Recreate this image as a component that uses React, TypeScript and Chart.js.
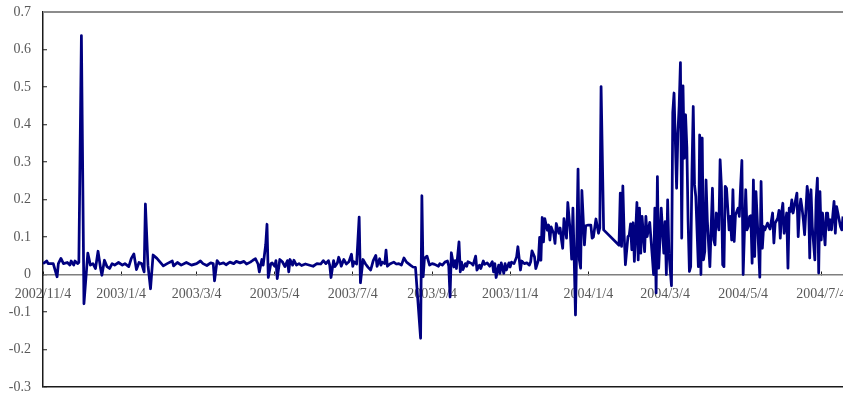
import { useEffect, useRef } from "react";
import { Chart, registerables } from "chart.js";

Chart.register(...registerables);

// Dates shown on the horizontal axis
const startDate = "2002/11/4";
const tickDates = [
  "2002/11/4", "2003/1/4", "2003/3/4", "2003/5/4", "2003/7/4", "2003/9/4",
  "2003/11/4", "2004/1/4", "2004/3/4", "2004/5/4", "2004/7/4",
];
const lastDay = 625; // days after start date at the right edge

// Days after 2002/11/4 of each observation
const dayNumbers = [
  0, 3, 4, 8, 11, 12, 14, 16, 19, 21, 22, 24, 25, 27, 28, 30, 32, 35, 37, 39,
  41, 43, 45, 46, 48, 50, 52, 54, 56, 59, 62, 64, 67, 69, 71, 73, 75, 77, 79, 80,
  82, 84, 86, 89, 94, 97, 101, 102, 105, 108, 112, 116, 120, 123, 125, 128, 131, 133, 134, 136,
  138, 141, 143, 146, 149, 151, 154, 157, 159, 162, 164, 166, 168, 169, 171, 172, 174, 175, 176, 178,
  179, 181, 182, 183, 185, 187, 189, 191, 192, 193, 195, 196, 198, 200, 202, 205, 209, 211, 214, 217,
  219, 221, 223, 224, 225, 227, 228, 230, 231, 232, 233, 235, 237, 239, 241, 242, 243, 245, 247, 248,
  250, 252, 254, 256, 258, 260, 261, 263, 264, 265, 267, 268, 269, 271, 274, 276, 278, 280, 282, 284,
  287, 289, 291, 295, 296, 297, 298, 300, 302, 304, 306, 309, 310, 312, 314, 316, 317, 318, 319, 321,
  322, 323, 325, 326, 327, 328, 330, 331, 332, 335, 336, 338, 339, 341, 342, 344, 345, 347, 349, 351,
  352, 353, 354, 356, 357, 358, 360, 361, 362, 364, 365, 366, 368, 370, 371, 373, 374, 376, 378, 380,
  381, 382, 384, 385, 387, 388, 389, 390, 391, 392, 394, 395, 396, 397, 399, 400, 401, 403, 404, 405,
  406, 407, 409, 410, 412, 413, 414, 415, 416, 418, 419, 420, 421, 423, 424, 426, 428, 429, 430, 432,
  434, 435, 436, 438, 450, 451, 452, 453, 454, 455, 457, 458, 459, 460, 461, 462, 464, 465, 466, 467,
  468, 470, 471, 472, 474, 476, 477, 478, 479, 480, 481, 482, 483, 485, 486, 487, 488, 489, 491, 492,
  493, 495, 496, 497, 498, 499, 500, 501, 502, 503, 504, 505, 506, 507, 508, 509, 510, 512, 513, 514,
  515, 516, 517, 518, 519, 520, 521, 523, 524, 525, 526, 528, 529, 530, 531, 532, 533, 534, 536, 537,
  538, 539, 540, 541, 543, 544, 545, 546, 547, 549, 550, 551, 552, 553, 554, 555, 556, 557, 559, 560,
  561, 562, 563, 564, 566, 567, 568, 570, 571, 572, 574, 575, 576, 577, 578, 579, 581, 582, 583, 584,
  585, 586, 588, 589, 590, 591, 592, 593, 594, 595, 597, 598, 599, 600, 601, 603, 604, 605, 606, 607,
  608, 609, 611, 612, 613, 614, 615, 616, 618, 619, 620, 621, 623, 624, 625,
];

// Observed values
const values = [
  0.029, 0.036, 0.029, 0.029, -0.006, 0.029, 0.043, 0.029, 0.032, 0.025, 0.036, 0.025, 0.036, 0.029, 0.032, 0.637, -0.078, 0.057, 0.025, 0.029,
  0.016, 0.062, 0.016, -0.002, 0.038, 0.021, 0.016, 0.029, 0.025, 0.032, 0.025, 0.029, 0.021, 0.043, 0.055, 0.013, 0.032, 0.029, 0.007, 0.188,
  0.025, -0.038, 0.052, 0.043, 0.023, 0.029, 0.036, 0.023, 0.032, 0.025, 0.032, 0.025, 0.029, 0.036, 0.029, 0.024, 0.031, 0.029, -0.017, 0.037,
  0.028, 0.031, 0.026, 0.033, 0.029, 0.035, 0.031, 0.035, 0.028, 0.033, 0.038, 0.042, 0.028, 0.007, 0.040, 0.025, 0.080, 0.134, -0.008, 0.029,
  0.031, 0.022, 0.037, -0.011, 0.040, 0.034, 0.021, 0.037, 0.007, 0.040, 0.025, 0.038, 0.025, 0.029, 0.024, 0.028, 0.024, 0.022, 0.029, 0.028,
  0.037, 0.029, 0.037, 0.025, -0.008, 0.037, 0.021, 0.031, 0.046, 0.037, 0.022, 0.040, 0.028, 0.034, 0.054, 0.022, 0.034, 0.028, 0.153, -0.022,
  0.040, 0.028, 0.019, 0.012, 0.037, 0.051, 0.022, 0.042, 0.025, 0.033, 0.029, 0.065, 0.022, 0.028, 0.033, 0.028, 0.029, 0.025, 0.044, 0.033,
  0.025, 0.020, 0.019, -0.170, 0.210, -0.006, 0.043, 0.049, 0.025, 0.029, 0.027, 0.022, 0.029, 0.025, 0.033, 0.036, 0.022, -0.060, 0.058, 0.020,
  0.037, 0.016, 0.087, 0.007, 0.033, 0.013, 0.029, 0.022, 0.034, 0.029, 0.025, 0.049, 0.012, 0.025, 0.016, 0.036, 0.027, 0.031, 0.022, 0.034,
  0.007, 0.029, -0.008, 0.025, 0.003, 0.031, 0.003, 0.029, 0.012, 0.031, 0.020, 0.033, 0.029, 0.047, 0.074, 0.012, 0.036, 0.029, 0.031, 0.025,
  0.034, 0.063, 0.047, 0.016, 0.038, 0.099, 0.038, 0.152, 0.087, 0.149, 0.118, 0.132, 0.092, 0.127, 0.109, 0.083, 0.136, 0.110, 0.124, 0.094,
  0.070, 0.149, 0.097, 0.192, 0.110, 0.041, 0.177, 0.040, -0.108, 0.281, 0.039, 0.017, 0.224, 0.079, 0.130, 0.132, 0.132, 0.097, 0.100, 0.148,
  0.110, 0.124, 0.501, 0.119, 0.078, 0.217, 0.075, 0.236, 0.110, 0.026, 0.101, 0.105, 0.135, 0.066, 0.138, 0.035, 0.192, 0.039, 0.177, 0.057,
  0.155, 0.061, 0.155, 0.101, 0.139, 0.048, 0.000, 0.177, -0.049, 0.261, 0.017, 0.092, 0.177, 0.057, 0.141, 0.000, 0.199, 0.057, -0.030, 0.432,
  0.484, 0.230, 0.377, 0.450, 0.565, 0.097, 0.503, 0.310, 0.426, 0.340, 0.141, 0.008, 0.021, 0.275, 0.448, 0.239, 0.208, 0.021, 0.372, 0.000,
  0.364, 0.039, 0.061, 0.252, 0.145, 0.079, 0.021, 0.230, 0.092, 0.079, 0.164, 0.119, 0.306, 0.235, 0.026, 0.021, 0.235, 0.230, 0.119, 0.155,
  0.092, 0.226, 0.088, 0.159, 0.177, 0.155, 0.235, 0.304, 0.000, 0.226, 0.119, 0.128, 0.155, 0.157, 0.030, 0.252, 0.048, 0.221, 0.075, -0.007,
  0.248, 0.070, 0.128, 0.119, 0.137, 0.128, 0.121, 0.164, 0.084, 0.137, 0.150, 0.171, 0.097, 0.164, 0.190, 0.110, 0.164, 0.017, 0.177, 0.168,
  0.199, 0.164, 0.199, 0.217, 0.101, 0.172, 0.201, 0.177, 0.146, 0.106, 0.235, 0.208, 0.044, 0.226, 0.128, 0.039, 0.200, 0.257, 0.004, 0.221,
  0.092, 0.164, 0.079, 0.164, 0.164, 0.119, 0.146, 0.119, 0.195, 0.110, 0.181, 0.164, 0.128, 0.119, 0.155,
];

// Vertical axis ticks
const yTicks = [0.7, 0.6, 0.5, 0.4, 0.3, 0.2, 0.1, 0, -0.1, -0.2, -0.3];
const yMin = -0.3;
const yMax = 0.7;

const FONT = "'Liberation Serif', 'Times New Roman', serif";

function dayOf(s: string): number {
  const [y, m, d] = s.split("/").map(Number);
  const [y0, m0, d0] = startDate.split("/").map(Number);
  return Math.round((Date.UTC(y, m - 1, d) - Date.UTC(y0, m0 - 1, d0)) / 86400000);
}

function yGridColor(ctx: any): string {
  const v = ctx.tick ? ctx.tick.value : null;
  if (v === yMin) return "#1a1a1a";
  return "rgba(0,0,0,0)";
}

// Grey top border of the plot area, filled as a thin rectangle at the 0.7 level
const topBorder = {
  id: "topBorder",
  afterDraw(chart: any) {
    const ctx = chart.ctx;
    const area = chart.chartArea;
    const y = chart.scales.y.getPixelForValue(yMax);
    ctx.save();
    ctx.fillStyle = "#8c8c8c";
    ctx.fillRect(area.left, Math.round(y) - 1, area.right - area.left, 2);
    ctx.restore();
  },
};

export default function App() {
  const ref = useRef<HTMLCanvasElement>(null);

  useEffect(() => {
    document.body.style.margin = "0";
    const canvas = ref.current;
    if (!canvas) return;
    const tickDays = tickDates.map(dayOf);
    const chart = new Chart(canvas, {
      type: "line",
      data: {
        datasets: [
          {
            data: dayNumbers.map((d, i) => ({ x: d, y: values[i] })),
            xAxisID: "x",
            yAxisID: "y",
            borderColor: "#000080",
            borderWidth: 2.75,
            pointRadius: 0,
            tension: 0,
            borderJoinStyle: "round",
          },
        ],
      },
      options: {
        animation: false,
        responsive: false,
        maintainAspectRatio: false,
        layout: { autoPadding: false, padding: { top: 12, bottom: 9, left: 0, right: 0 } },
        plugins: { legend: { display: false }, tooltip: { enabled: false } },
        scales: {
          x: {
            type: "linear",
            position: { y: 0 } as any,
            min: 0,
            max: lastDay,
            grid: {
              display: true,
              drawOnChartArea: false,
              drawTicks: true,
              tickLength: -4,
              tickColor: "#1a1a1a",
              tickWidth: 1,
            },
            border: { display: true, color: "#7f7f7f", width: 1.5 },
            afterBuildTicks: (scale: any) => {
              scale.ticks = tickDays.map((v) => ({ value: v }));
            },
            afterFit: (scale: any) => {
              scale.paddingLeft = 0;
              scale.paddingRight = 0;
            },
            ticks: {
              autoSkip: false,
              maxRotation: 0,
              minRotation: 0,
              padding: 15,
              color: "#595959",
              font: { family: FONT, size: 14 },
              callback: (_v: any, i: number) => tickDates[i],
            },
          },
          y: {
            type: "linear",
            min: yMin,
            max: yMax,
            grid: {
              display: true,
              drawOnChartArea: true,
              drawTicks: true,
              tickLength: -4,
              color: yGridColor,
              lineWidth: 1.5,
              tickColor: "#1a1a1a",
              tickWidth: 1,
            },
            border: { display: true, color: "#1a1a1a", width: 1.5 },
            afterBuildTicks: (scale: any) => {
              scale.ticks = yTicks.map((v) => ({ value: v }));
            },
            afterFit: (scale: any) => {
              scale.width = 43;
              scale.paddingTop = 0;
              scale.paddingBottom = 0;
            },
            ticks: {
              padding: 16,
              color: "#595959",
              font: { family: FONT, size: 14 },
              callback: (v: any) => String(Number(Number(v).toFixed(1))),
            },
          },
        },
      },
      plugins: [topBorder],
    });
    return () => chart.destroy();
  }, []);

  return (
    <div style={{ position: "absolute", left: 0, top: 0, width: 843, height: 396 }}>
      <canvas ref={ref} width={843} height={396} style={{ width: 843, height: 396, display: "block" }} />
    </div>
  );
}
